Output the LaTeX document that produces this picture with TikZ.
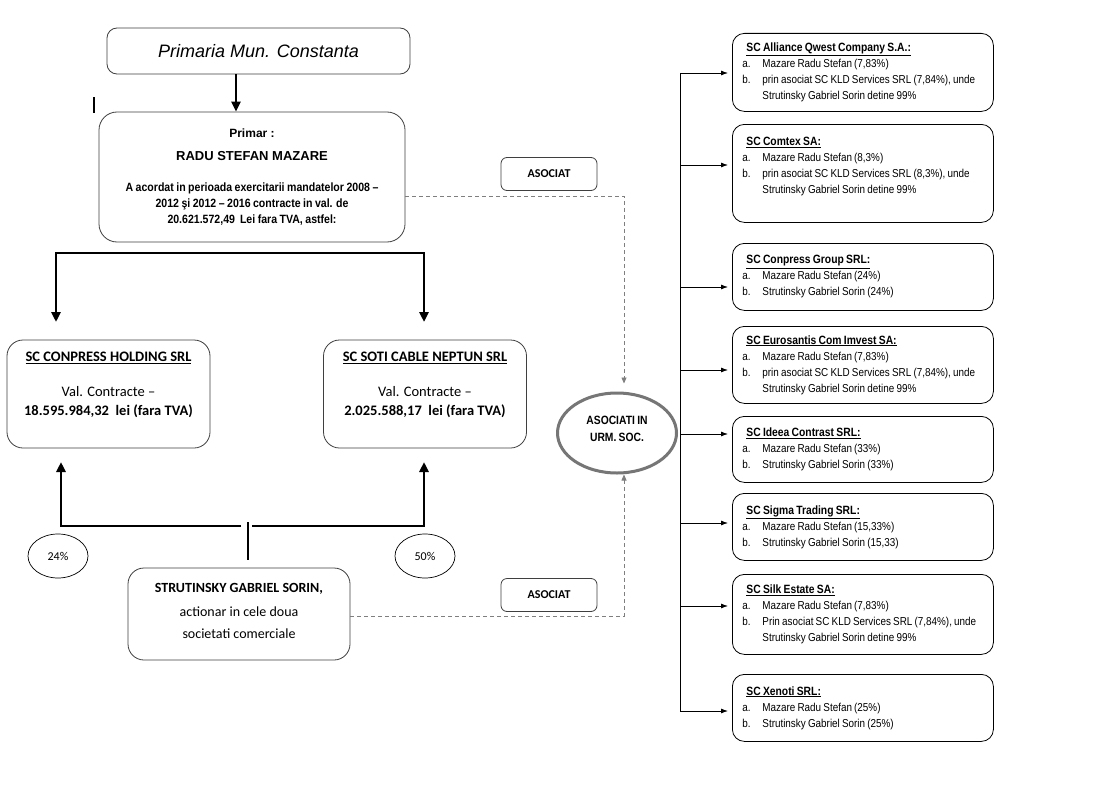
\documentclass[tikz,border=0pt]{standalone}
\usepackage{fontspec}
\setmainfont{Liberation Sans}
\newfontfamily\narrowfont[FakeStretch=0.86, WordSpace=0.8]{Liberation Sans}
\newfontfamily\primfont[FakeStretch=0.88, WordSpace=0.85]{Liberation Sans}
\newfontfamily\calfont{Carlito}
\usetikzlibrary{arrows.meta,shapes.geometric}
\definecolor{boxgray}{HTML}{3F3F3F}
\definecolor{dashgray}{HTML}{7F7F7F}
\definecolor{ringgray}{HTML}{767676}
\newcommand{\firmtitle}[1]{\hspace*{4pt}{\fontsize{12}{16}\selectfont\textbf{\underline{#1}}}}
\newcommand{\itm}[1]{\makebox[20pt][l]{#1}}
\tikzset{
  topbox/.style={draw=boxgray, line width=0.8pt, rounded corners=10pt, minimum width=303, minimum height=46, font=\fontsize{18}{20}\selectfont},
  primbox/.style={draw=boxgray, line width=0.8pt, rounded corners=18pt, minimum width=306, minimum height=130, align=center, font=\fontsize{12}{16}\selectfont\bfseries},
  cbox/.style={draw=boxgray, line width=0.8pt, rounded corners=16pt, minimum width=203, minimum height=108, align=center, font=\calfont\fontsize{14}{19}\selectfont},
  pct/.style={draw=black, line width=0.7pt, ellipse, minimum width=60, minimum height=44, font=\calfont\fontsize{12}{14}\selectfont},
  asoc/.style={draw=boxgray, line width=0.8pt, rounded corners=6pt, minimum width=96, minimum height=33, font=\calfont\fontsize{12}{14}\selectfont\bfseries},
  ring/.style={draw=ringgray, line width=3pt, ellipse, minimum width=119, minimum height=80, align=center, font=\narrowfont\fontsize{12}{14}\selectfont\bfseries},
  firm/.style={draw=black, line width=0.8pt, rounded corners=12pt, anchor=north west, minimum width=261, text width=241, inner xsep=10pt, align=flush left, font=\narrowfont\fontsize{11.5}{16}\selectfont},
  bigarrow/.style={line width=2.5pt, -{Triangle[length=10pt,width=9pt]}},
  bigline/.style={line width=2.5pt},
  thinarrow/.style={line width=0.8pt, -{Latex[length=7pt,width=5pt]}, shorten >=4pt},
  dasharrow/.style={draw=dashgray, line width=0.8pt, dash pattern=on 4pt off 3pt, -{Triangle[length=6pt,width=5pt]}}
}
\begin{document}
\begin{tikzpicture}[x=1pt,y=-1pt]
\useasboundingbox[fill=white] (0,0) rectangle (1119,792);
\node[topbox] (primaria) at (258.5,51) {\itshape Primaria Mun. Constanta};
\node[primbox] (primar) at (252,177) {\fontsize{12}{14}\selectfont Primar :\\[7pt] \fontsize{13}{15}\selectfont RADU STEFAN MAZARE\\[15pt] \primfont A acordat in perioada exercitarii mandatelor 2008 –\\ \primfont 2012 şi 2012 – 2016 contracte in val. de\\ \primfont 20.621.572,49\ \ Lei fara TVA, astfel:};
\draw[line width=1.5pt] (94,97) -- (94,113);

\node[cbox, font=\calfont\fontsize{14.5}{19}\selectfont] (holding) at (108.5,394) {\textbf{\underline{SC CONPRESS HOLDING SRL}}\\[16pt] Val. Contracte –\\ \textbf{18.595.984,32\ \ lei (fara TVA)}\\[2pt] \mbox{}};
\node[cbox, font=\calfont\fontsize{14.5}{19}\selectfont] (soti) at (425,394) {\textbf{\underline{SC SOTI CABLE NEPTUN SRL}}\\[16pt] Val. Contracte –\\ \textbf{2.025.588,17\ \ lei (fara TVA)}\\[2pt] \mbox{}};
\node[cbox, minimum width=222, minimum height=92, font=\calfont\fontsize{14}{22}\selectfont] (strut) at (239,614) {\textbf{STRUTINSKY GABRIEL SORIN,}\\[2pt] actionar in cele doua\\ societati comerciale\\[-15pt] \mbox{}};
\node[pct] (p24) at (58,556) {24\%};
\node[pct] (p50) at (425,556) {50\%};

\coordinate (tarr) at (236,0);
\draw[bigarrow] (primaria.south -| tarr) -- (primar.north -| tarr);
\coordinate (ftop) at (236,253); \coordinate (hin) at (56,322); \coordinate (sin) at (424,322);
\draw[bigarrow] (ftop) -| (hin);
\draw[bigarrow] (ftop) -| (sin);
\coordinate (gl) at (241,526); \coordinate (gr) at (252,526); \coordinate (hout) at (61,462); \coordinate (sout) at (424,462);
\draw[bigarrow] (gl) -| (hout);
\draw[bigarrow] (gr) -| (sout);
\coordinate (stub) at (248,522);
\draw[bigline, shorten >=8pt] (stub) -- (stub |- strut.north);

\node[asoc] (asoc1) at (549,174) {ASOCIAT};
\node[asoc] (asoc2) at (549,595) {ASOCIAT};
\node[ring] (urm) at (617,433) {ASOCIATI IN\\[3pt] URM. SOC.\\[-6pt] \mbox{}};
\coordinate (dk1) at (624,196); \coordinate (dk2) at (624,616);
\draw[dasharrow, shorten >=8pt] (dk1 -| primar.east) -- (dk1) -- (dk1 |- urm.north);
\draw[dasharrow] (dk2 -| strut.east) -- (dk2) -- (dk2 |- urm.south);

\node[firm, minimum height=78] (f1) at (732,33) {\firmtitle{SC Alliance Qwest Company S.A.:}\\ \itm{a.}Mazare Radu Stefan (7,83\%)\\ \itm{b.}prin asociat SC KLD Services SRL (7,84\%), unde\\ \itm{}Strutinsky Gabriel Sorin detine 99\%};
\node[firm, minimum height=98] (f2) at (732,124) {\firmtitle{SC Comtex SA:}\\ \itm{a.}Mazare Radu Stefan (8,3\%)\\ \itm{b.}prin asociat SC KLD Services SRL (8,3\%), unde\\ \itm{}Strutinsky Gabriel Sorin detine 99\%\\ \mbox{}};
\node[firm, minimum height=67] (f3) at (732,243) {\firmtitle{SC Conpress Group SRL:}\\ \itm{a.}Mazare Radu Stefan (24\%)\\ \itm{b.}Strutinsky Gabriel Sorin (24\%)};
\node[firm, minimum height=77] (f4) at (732,326) {\firmtitle{SC Eurosantis Com Imvest SA:}\\ \itm{a.}Mazare Radu Stefan (7,83\%)\\ \itm{b.}prin asociat SC KLD Services SRL (7,84\%), unde\\ \itm{}Strutinsky Gabriel Sorin detine 99\%};
\node[firm, minimum height=66] (f5) at (732,416) {\firmtitle{SC Ideea Contrast SRL:}\\ \itm{a.}Mazare Radu Stefan (33\%)\\ \itm{b.}Strutinsky Gabriel Sorin (33\%)};
\node[firm, minimum height=67] (f6) at (732,493) {\firmtitle{SC Sigma Trading SRL:}\\ \itm{a.}Mazare Radu Stefan (15,33\%)\\ \itm{b.}Strutinsky Gabriel Sorin (15,33)};
\node[firm, minimum height=80] (f7) at (732,574) {\firmtitle{SC Silk Estate SA:}\\ \itm{a.}Mazare Radu Stefan (7,83\%)\\ \itm{b.}Prin asociat SC KLD Services SRL (7,84\%), unde\\ \itm{}Strutinsky Gabriel Sorin detine 99\%};
\node[firm, minimum height=67] (f8) at (732,674) {\firmtitle{SC Xenoti SRL:}\\ \itm{a.}Mazare Radu Stefan (25\%)\\ \itm{b.}Strutinsky Gabriel Sorin (25\%)};

\coordinate (s1) at (680,73); \coordinate (s2) at (680,165); \coordinate (s3) at (680,287); \coordinate (s4) at (680,370);
\coordinate (s5) at (680,434); \coordinate (s6) at (680,523); \coordinate (s7) at (680,606); \coordinate (s8) at (680,711);
\draw[line width=0.8pt] (s1) -- (s8);
\draw[thinarrow] (s1) -- (s1 -| f1.west);
\draw[thinarrow] (s2) -- (s2 -| f2.west);
\draw[thinarrow] (s3) -- (s3 -| f3.west);
\draw[thinarrow] (s4) -- (s4 -| f4.west);
\draw[thinarrow] (s5) -- (s5 -| f5.west);
\draw[thinarrow] (s6) -- (s6 -| f6.west);
\draw[thinarrow] (s7) -- (s7 -| f7.west);
\draw[thinarrow] (s8) -- (s8 -| f8.west);
\end{tikzpicture}
\end{document}
